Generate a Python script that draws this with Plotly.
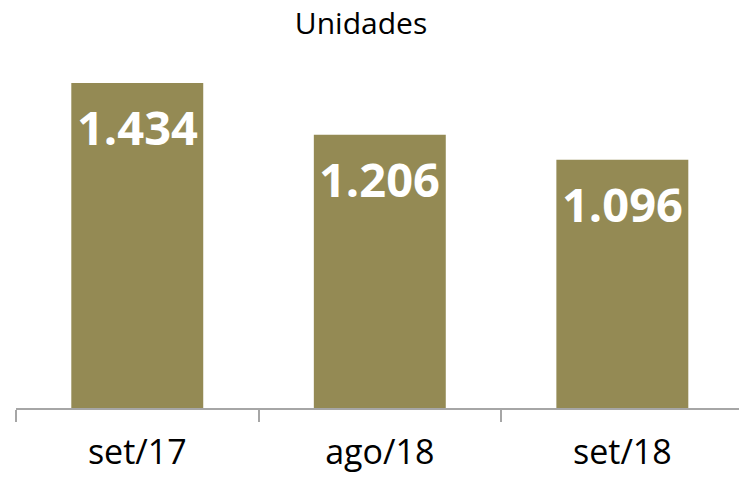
import plotly.graph_objects as go

categories = ["set/17", "ago/18", "set/18"]
values = [1434, 1206, 1096]
title_text = "Unidades"

BAR_COLOR = "#948A54"
FONT = "Open Sans"

def fmt(v):
    return f"{v:,}".replace(",", ".")

fig = go.Figure(
    go.Bar(
        x=categories,
        y=values,
        marker=dict(color=BAR_COLOR, line=dict(width=0)),
        hoverinfo="skip",
    )
)

for c, v in zip(categories, values):
    fig.add_annotation(
        x=c, y=v, xref="x", yref="y",
        text=fmt(v), showarrow=False,
        yanchor="middle", xanchor="center", yshift=-44,
        font=dict(family=FONT, size=47, color="white", weight="bold"),
    )

fig.update_layout(
    width=739, height=479,
    margin=dict(l=16, r=0, t=50, b=71),
    paper_bgcolor="white", plot_bgcolor="white",
    bargap=0.456,
    showlegend=False,
    hovermode=False,
    title=dict(
        text=title_text, xref="container", yref="container",
        x=0.4885, y=1 - 23 / 479, xanchor="center", yanchor="middle",
        font=dict(family=FONT, size=30, color="#000000"),
    ),
    font=dict(family=FONT),
)

fig.update_xaxes(
    range=[-0.5, 2.481],
    showline=True, linecolor="#A6A6A6", linewidth=2,
    ticks="outside", tickson="boundaries", ticklen=12, tickwidth=2, tickcolor="#A6A6A6",
    tickfont=dict(family=FONT, size=34, color="#000000"),
    showgrid=False, zeroline=False,
    ticklabelstandoff=13,
)
fig.update_yaxes(
    range=[0, 1580], visible=False, showgrid=False, zeroline=False,
)

fig.write_html(
    "out.html",
    config={"displayModeBar": False, "staticPlot": True},
    post_script="document.body.style.margin='0';document.body.style.padding='0';",
)
